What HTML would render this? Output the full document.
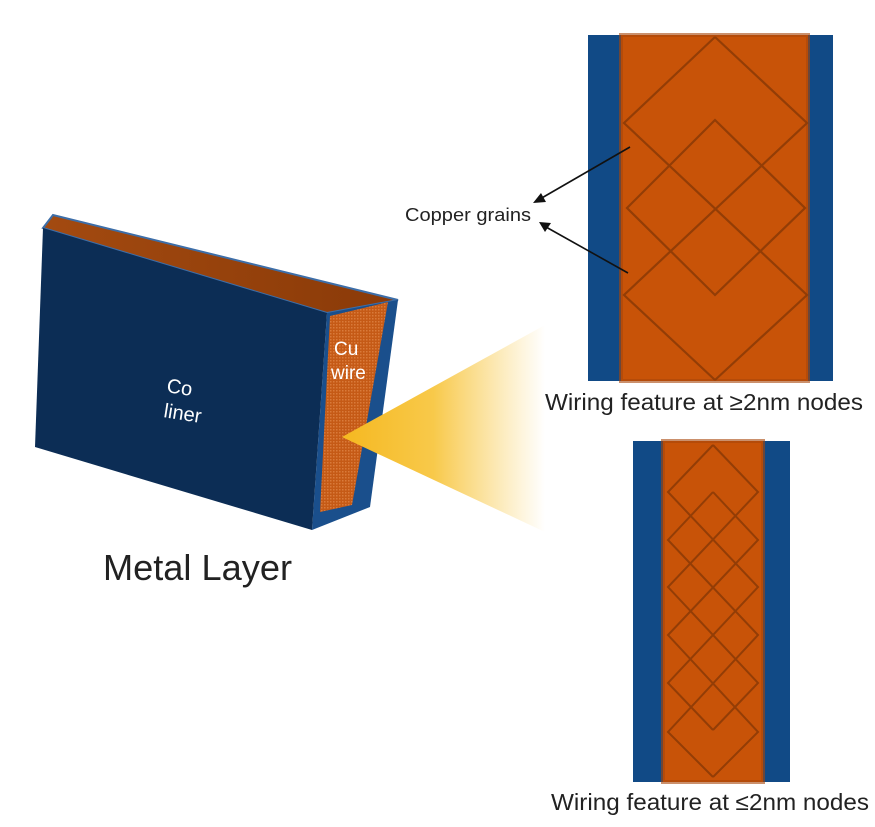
<!DOCTYPE html>
<html><head><meta charset="utf-8"><style>
html,body{margin:0;padding:0;background:#fff;}
svg{display:block;font-family:"Liberation Sans",sans-serif;}
</style></head><body>
<svg width="875" height="827" viewBox="0 0 875 827" xmlns="http://www.w3.org/2000/svg">
<defs>
<linearGradient id="cone" x1="342" y1="0" x2="545" y2="0" gradientUnits="userSpaceOnUse">
<stop offset="0" stop-color="#f5b820"/><stop offset="0.45" stop-color="#f8c94a"/><stop offset="1" stop-color="#ffffff" stop-opacity="0.9"/>
</linearGradient>
<linearGradient id="top" x1="0" y1="0" x2="1" y2="0">
<stop offset="0" stop-color="#a34a10"/><stop offset="1" stop-color="#8a3a08"/>
</linearGradient>
<pattern id="hatch" width="3" height="3" patternUnits="userSpaceOnUse">
<rect width="3" height="3" fill="#c55a16"/><rect width="1.5" height="1.5" fill="#d97a3a"/>
</pattern>
</defs>

<polygon points="43,228 53,215 398,300 327,313" fill="url(#top)"/>
<polygon points="43,228 53,215 398,300 327,313" fill="none" stroke="#3d6ea8" stroke-width="2"/>
<polygon points="327,313 398,300 370,507 312,530" fill="#1a4f8c"/>
<polygon points="330,316 388,302 352,505 320,512" fill="url(#hatch)"/>
<polygon points="43,228 327,313 312,530 35,447" fill="#0c2d55"/>
<text x="166" y="392" fill="#fff" font-size="20" transform="rotate(9 166 392)">Co</text>
<text x="163" y="417" fill="#fff" font-size="20" transform="rotate(9 163 417)">liner</text>
<text x="334" y="355" fill="#fff" font-size="19">Cu</text>
<text x="331" y="379" fill="#fff" font-size="19">wire</text>
<text x="103" y="580" fill="#222" font-size="36" textLength="189" lengthAdjust="spacingAndGlyphs">Metal Layer</text>

<polygon points="342,437 545,325 545,532" fill="url(#cone)"/>

<rect x="588" y="35" width="245" height="346" fill="#114a86"/>
<rect x="621" y="35" width="187" height="346" fill="#c85308"/>
<rect x="621" y="35" width="187" height="346" fill="none" stroke="#a8460a" stroke-width="4" opacity="0.6"/>
<g fill="none" stroke="#8a3a06" stroke-width="2.2" opacity="0.85">
<polyline points="715,37 624,123 807,295 715,380"/>
<polyline points="715,37 807,123 624,295 715,380"/>
<polygon points="715,120 627,208 715,295 805,208"/>
</g>

<rect x="633" y="441" width="157" height="341" fill="#114a86"/>
<rect x="663" y="441" width="100" height="341" fill="#c85308"/>
<rect x="663" y="441" width="100" height="341" fill="none" stroke="#a8460a" stroke-width="4" opacity="0.6"/>
<g fill="none" stroke="#8a3a06" stroke-width="2" opacity="0.85">
<polyline points="713,445 668,492 758,587 668,683 713,730"/>
<polyline points="713,445 758,492 668,587 758,683 713,730"/>
<polyline points="713,492 668,540 758,635 668,732 713,777"/>
<polyline points="713,492 758,540 668,635 758,732 713,777"/>
</g>

<text x="405" y="221" fill="#222" font-size="18" textLength="126" lengthAdjust="spacingAndGlyphs">Copper grains</text>
<g stroke="#111" stroke-width="1.6">
<line x1="630" y1="147" x2="540" y2="199"/>
<line x1="628" y1="273" x2="546" y2="227"/>
</g>
<polygon points="533,203 541,193 546,202" fill="#111"/>
<polygon points="539,222 551,223 545,232" fill="#111"/>
<text x="545" y="410" fill="#222" font-size="23.5" textLength="318" lengthAdjust="spacingAndGlyphs">Wiring feature at ≥2nm nodes</text>
<text x="551" y="810" fill="#222" font-size="23.5" textLength="318" lengthAdjust="spacingAndGlyphs">Wiring feature at ≤2nm nodes</text>
</svg>
</body></html>
